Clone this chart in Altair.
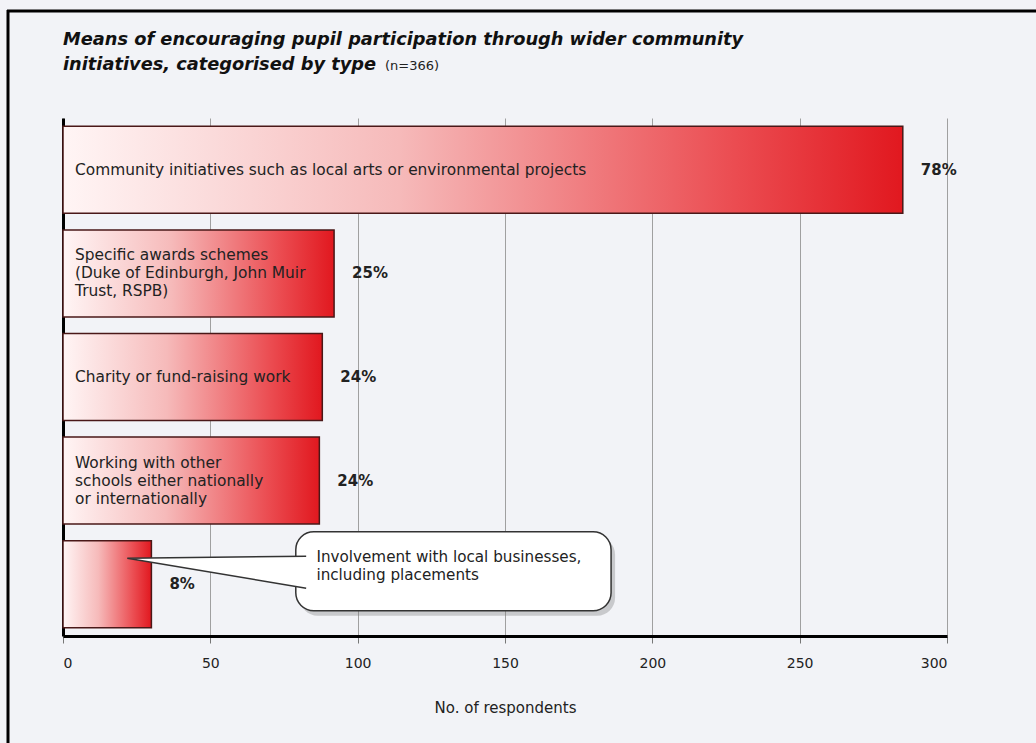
import altair as alt
import pandas as pd

# ---- data -------------------------------------------------------------
categories = [
    "Community initiatives such as local arts or environmental projects",
    "Specific awards schemes\n(Duke of Edinburgh, John Muir\nTrust, RSPB)",
    "Charity or fund-raising work",
    "Working with other\nschools either nationally\nor internationally",
    "Involvement with local businesses,\nincluding placements",
]
respondents = [285, 92, 88, 87, 30]
n_total = 366
x_ticks = [0, 50, 100, 150, 200, 250, 300]

title_lines = "Means of encouraging pupil participation through wider community\ninitiatives, categorised by type"
sample_note = "(n=366)"
x_title = "No. of respondents"

LINE_H = 18  # line spacing of the wrapped labels, px

bars = pd.DataFrame({"category": categories, "respondents": respondents})

# one row per printed line so every wrapped label is centred on its bar;
# the last category is described in a speech bubble instead of inside its bar
line_rows = []
for cat in categories[:-1]:
    parts = cat.split("\n")
    for i, part in enumerate(parts):
        line_rows.append({
            "category": cat,
            "line": part,
            "off": (i - (len(parts) - 1) / 2) * LINE_H,
        })
label_lines = pd.DataFrame(line_rows)

callout = pd.DataFrame({"category": [categories[-1]], "text": [categories[-1]]})
single = pd.DataFrame({"k": [0]})

# ---- styling ----------------------------------------------------------
FONT = "DejaVu Sans"
W, H = 884, 518
BG = "#f2f3f7"

bar_fill = alt.LinearGradient(
    gradient="linear",
    x1=0, x2=1, y1=0, y2=0,
    stops=[
        alt.GradientStop(color="#fff5f5", offset=0),
        alt.GradientStop(color="#f6baba", offset=0.4),
        alt.GradientStop(color="#eb4c51", offset=0.8),
        alt.GradientStop(color="#e1181f", offset=1),
    ],
)

x_enc_scale = alt.Scale(domain=[0, 300], nice=False, zero=True)
y_scale = alt.Scale(domain=categories, paddingInner=0.16, paddingOuter=0.08)

x_axis = alt.Axis(
    values=x_ticks, title=x_title, grid=True, gridColor="#a0a0a0", gridWidth=1,
    domainColor="#000000", domainWidth=3, tickColor="#777777", tickSize=7,
    tickWidth=1, labelFont=FONT, labelFontSize=14, labelColor="#222222",
    labelPadding=13, titleFont=FONT, titleFontSize=15, titleFontWeight="normal",
    titleColor="#222222", titlePadding=30,
)
y_axis = alt.Axis(
    labels=False, ticks=False, title=None, grid=False,
    domainColor="#000000", domainWidth=3,
)
y_enc = alt.Y("category:N", sort=categories, scale=y_scale, axis=y_axis)

base = alt.Chart(bars).encode(y=y_enc)

bar_layer = base.mark_bar(fill=bar_fill, stroke="#4a1818", strokeWidth=1.5).encode(
    x=alt.X("respondents:Q", scale=x_enc_scale, axis=x_axis),
)

# wrapped labels inside the bars: one layer per line offset
label_layers = []
for off in sorted(set(label_lines["off"])):
    label_layers.append(
        alt.Chart(label_lines)
        .transform_filter(alt.datum.off == off)
        .mark_text(
            align="left", baseline="middle", dx=12, dy=off,
            font=FONT, fontSize=15.4, color="#222222",
        )
        .encode(x=alt.datum(0), y=y_enc, text="line:N")
    )

pct_labels = base.transform_calculate(
    pct=f"format(datum.respondents / {n_total}, '.0%')"
).mark_text(
    align="left", baseline="middle", dx=18, font=FONT, fontSize=15,
    fontWeight="bold", color="#222222",
).encode(x="respondents:Q", text="pct:N")

# ---- speech bubble ----------------------------------------------------
BUBBLE_X0, BUBBLE_X1 = 79, 186
POINTER_X = 51
TEXT_X = 86

cbase = alt.Chart(callout).encode(y=y_enc)

bubble_shadow = cbase.mark_rect(
    cornerRadius=18, fill="#7a7a7a", opacity=0.35, height=79,
    xOffset=4, x2Offset=4, yOffset=-8,
).encode(x=alt.datum(BUBBLE_X0), x2=alt.datum(BUBBLE_X1))

bubble = cbase.mark_rect(
    cornerRadius=18, fill="#ffffff", stroke="#333333", strokeWidth=1.5,
    height=79, yOffset=-13,
).encode(x=alt.datum(BUBBLE_X0), x2=alt.datum(BUBBLE_X1))

pointer = cbase.mark_point(
    shape="M 1.08 -0.186 L -1 -0.163 L 1.08 0.186",
    size=29584, filled=True, fill="#ffffff", stroke="#333333",
    strokeWidth=1.5, opacity=1, yOffset=-12,
).encode(x=alt.datum(POINTER_X))

bubble_text = cbase.mark_text(
    align="left", baseline="middle", lineBreak="\n", lineHeight=LINE_H,
    font=FONT, fontSize=15.2, color="#222222", yOffset=-27,
).encode(x=alt.datum(TEXT_X), text="text:N")

# ---- title and frame --------------------------------------------------
sbase = alt.Chart(single)

title_text = sbase.mark_text(
    align="left", baseline="alphabetic", lineBreak="\n", lineHeight=25,
    font=FONT, fontSize=17.8, fontWeight="bold", fontStyle="italic",
    color="#111111", text=title_lines,
).encode(x=alt.value(0), y=alt.value(-73))

note_text = sbase.mark_text(
    align="left", baseline="alphabetic", font=FONT, fontSize=13,
    color="#222222", text=sample_note,
).encode(x=alt.value(322), y=alt.value(-48))

frame_top = sbase.mark_rule(color="#000000", strokeWidth=3).encode(
    x=alt.value(-56), x2=alt.value(973), y=alt.value(-107)
)
frame_left = sbase.mark_rule(color="#000000", strokeWidth=3).encode(
    x=alt.value(-55), y=alt.value(-108), y2=alt.value(625)
)

chart = alt.layer(
    bar_layer, *label_layers, pct_labels,
    bubble_shadow, bubble, pointer, bubble_text,
    title_text, note_text, frame_top, frame_left,
).properties(
    width=W, height=H,
    autosize=alt.AutoSizeParams(type="none"),
    padding={"left": 63, "top": 118, "right": 89, "bottom": 107},
    background=BG,
).configure_view(stroke=None)

chart.save("out.html", embed_options={"renderer": "svg", "actions": False})
